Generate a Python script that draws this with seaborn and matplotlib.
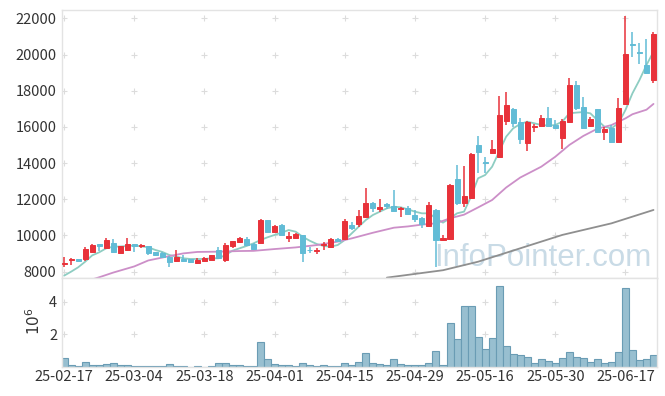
import numpy as np
import pandas as pd
import matplotlib
matplotlib.use("Agg")
import matplotlib.pyplot as plt
import seaborn as sns

# daily candles, one value per trading day (25-02-17 .. 25-06-23)
opens = [8450, 8660, 8680, 8680, 9100, 9510, 9330, 9570, 9050, 9200,
         9510, 9420, 9420, 9070, 9010, 8830, 8610, 8700, 8680, 8460,
         8610, 8650, 9200, 8650, 9420, 9640, 9800, 9550, 9600, 10850,
         10210, 10560, 9880, 9880, 10010, 9210, 9140, 9490, 9380, 9800,
         9790, 10580, 10630, 11040, 11810, 11460, 11740, 11630, 11440, 11540,
         11130, 10950, 10540, 11410, 9750, 9790, 13120, 11780, 12050, 15000,
         14040, 14580, 14350, 16340, 16990, 16270, 15110, 15980, 16050, 16490,
         16100, 15370, 16290, 18310, 17080, 16050, 16990, 15700, 15920, 15180,
         17250, 20580, 20120, 19420, 18590]
highs = [8830, 8770, 8700, 9380, 9510, 9510, 9860, 9790, 9440, 9840,
         9510, 9550, 9440, 9100, 9070, 8850, 9200, 8920, 8700, 8770,
         8810, 8920, 9380, 9600, 9720, 9920, 9930, 9580, 10910, 10870,
         10580, 10630, 10170, 10150, 10040, 9340, 9290, 9620, 9860, 9880,
         10890, 10760, 11410, 12600, 11870, 12000, 11810, 12510, 11590, 11610,
         11410, 11040, 11870, 11440, 10000, 12850, 13890, 13860, 14540, 15500,
         14350, 15280, 17730, 17910, 17030, 16470, 16340, 16160, 16660, 17080,
         16380, 16440, 18680, 18560, 17630, 16530, 17010, 16010, 16100, 17580,
         22120, 21260, 20660, 20840, 21260]
lows = [8280, 8370, 8520, 8610, 9080, 9160, 9290, 9070, 9030, 9160,
        9100, 9290, 8920, 8870, 8740, 8280, 8550, 8550, 8460, 8400,
        8520, 8620, 8680, 8550, 9300, 9600, 9440, 9200, 9580, 10190,
        10190, 10000, 9620, 9860, 8520, 9050, 8980, 9200, 9330, 9680,
        9770, 10300, 10490, 10950, 11300, 11300, 11460, 11350, 11040, 11130,
        10760, 10390, 10490, 8280, 9710, 9750, 11680, 11590, 12010, 13430,
        13430, 14540, 14280, 16100, 16010, 15040, 14670, 15740, 16050, 16010,
        15920, 14760, 16200, 16920, 15880, 16010, 15640, 15280, 15130, 15150,
        17190, 19880, 19480, 18960, 18440]
closes = [8470, 8690, 8610, 9230, 9470, 9420, 9750, 9100, 9420, 9510,
          9420, 9450, 9010, 8900, 8790, 8550, 8830, 8610, 8520, 8650,
          8740, 8900, 8740, 9470, 9700, 9860, 9470, 9230, 10850, 10210,
          10520, 10030, 9950, 10080, 9050, 9180, 9170, 9510, 9800, 9710,
          10820, 10390, 11080, 11810, 11520, 11570, 11630, 11370, 11540, 11200,
          10910, 10630, 11680, 9750, 9880, 12790, 11810, 12180, 14500, 14630,
          13990, 14760, 16660, 17210, 16230, 15310, 16290, 16050, 16490, 16070,
          15960, 16340, 18310, 17060, 15920, 16440, 15700, 15880, 15180, 17030,
          20030, 20540, 20070, 19000, 21130]
# volume in millions
volumes = [0.53, 0.12, 0.04, 0.29, 0.12, 0.12, 0.16, 0.22, 0.12, 0.12,
           0.06, 0.06, 0.04, 0.04, 0.04, 0.16, 0.06, 0.04, 0.0, 0.04,
           0.0, 0.04, 0.22, 0.22, 0.12, 0.12, 0.04, 0.04, 1.51, 0.47,
           0.16, 0.10, 0.10, 0.04, 0.22, 0.10, 0.04, 0.10, 0.04, 0.06,
           0.22, 0.10, 0.29, 0.84, 0.22, 0.16, 0.10, 0.47, 0.16, 0.10,
           0.14, 0.14, 0.22, 0.96, 0.10, 2.67, 1.69, 3.73, 3.73, 1.81,
           1.08, 1.75, 4.93, 1.26, 0.77, 0.71, 0.59, 0.22, 0.47, 0.35,
           0.22, 0.53, 0.90, 0.59, 0.53, 0.29, 0.47, 0.22, 0.29, 0.90,
           4.81, 1.02, 0.41, 0.47, 0.71]

# moving averages
ma5 = [7780, 8000, 8240, 8550, 8900, 9070, 9290, 9380, 9390, 9420,
       9440, 9400, 9345, 9200, 9090, 8920, 8830, 8740, 8700, 8700,
       8700, 8740, 8740, 8920, 9160, 9290, 9420, 9566, 9750, 9900,
       10030, 10155, 10300, 10210, 9930, 9710, 9530, 9420, 9380, 9474,
       9750, 10120, 10490, 10855, 11130, 11316, 11500, 11590, 11555, 11445,
       11316, 11224, 11224, 10950, 10710, 10950, 11224, 11316, 12150, 13160,
       13340, 13800, 14630, 15460, 15920, 16160, 16290, 16200, 16105, 16070,
       16105, 16290, 16750, 16790, 16820, 16750, 16380, 16013, 15920, 16200,
       16930, 17855, 18590, 19420, 20157]
ma20_days = [4, 5, 7, 10, 12, 15, 17, 19, 22, 25, 27, 30, 33, 36, 39, 41, 44, 47,
             49, 51, 53, 55, 57, 59, 61, 63, 65, 68, 70, 72, 74, 76, 78, 80, 81, 83, 84]
ma20 = [7570, 7690, 7950, 8290, 8620, 8860, 9010, 9090, 9105, 9140, 9150, 9250,
        9340, 9470, 9660, 9840, 10150, 10430, 10500, 10600, 10670, 10950, 11150,
        11550, 11960, 12650, 13200, 13800, 14350, 15000, 15500, 15900, 16100,
        16470, 16700, 16950, 17270]
ma60_days = [46, 54, 59, 65, 71, 78, 84]
ma60 = [7670, 8080, 8550, 9290, 10030, 10670, 11410]

tick_days = [0, 10, 20, 30, 40, 50, 60, 70, 80]
tick_labels = ['25-02-17', '25-03-04', '25-03-18', '25-04-01', '25-04-15',
               '25-04-29', '25-05-16', '25-05-30', '25-06-17']
price_ticks = [8000, 10000, 12000, 14000, 16000, 18000, 20000, 22000]
vol_ticks = [2, 4]

sns.set_style("white")
plt.rcParams['font.family'] = ['Noto Sans CJK KR', 'DejaVu Sans']

up_col = '#e8323a'
down_col = '#62bcd6'
spine_col = '#e3e3e3'
text_col = '#333333'

df = pd.DataFrame({'day': np.arange(len(opens)), 'open': opens, 'high': highs,
                   'low': lows, 'close': closes, 'volume': volumes, 'ma5': ma5})
df['up'] = df['close'] >= df['open']
df['body_lo'] = df[['open', 'close']].min(axis=1)
df['body_h'] = (df['close'] - df['open']).abs()
cols = np.where(df['up'], up_col, down_col)

fig = plt.figure(figsize=(6.65, 3.96), dpi=100)
ax = fig.add_axes([62 / 665, 1 - 278 / 396, 595 / 665, 268 / 396])
ax2 = fig.add_axes([62 / 665, 1 - 367 / 396, 595 / 665, 89 / 396], sharex=ax)

# grid drawn as small crosses
gx, gy = np.meshgrid(tick_days, price_ticks)
ax.scatter(gx.ravel(), gy.ravel(), marker='+', s=22, color='#dcdcdc', lw=0.8, zorder=0)
gx2, gy2 = np.meshgrid(tick_days, vol_ticks)
ax2.scatter(gx2.ravel(), gy2.ravel(), marker='+', s=22, color='#dcdcdc', lw=0.8, zorder=0)

# watermark
ax.text(0.625, 0.045, 'InfoPointer.com', transform=ax.transAxes, fontsize=22.5,
        family='Liberation Sans', color='#c3d7e4', alpha=0.9, zorder=1)

# moving averages
sns.lineplot(x=df['day'], y=df['ma5'], ax=ax, color='#8ecdc2', lw=1.3, zorder=2)
sns.lineplot(x=ma20_days, y=ma20, ax=ax, color='#cc8fc8', lw=1.3, zorder=2)
sns.lineplot(x=ma60_days, y=ma60, ax=ax, color='#8f8f8f', lw=1.3, zorder=2)

# candles
ax.vlines(df['day'], df['low'], df['high'], colors=cols, lw=1.1, zorder=3)
ax.bar(df['day'], df['body_h'], bottom=df['body_lo'], width=0.72, color=cols,
       edgecolor=cols, linewidth=0.7, zorder=4)

# volume
sns.barplot(x=df['day'], y=df['volume'], ax=ax2, native_scale=True, width=1.0,
            color='#98bfd0', edgecolor='#6a9cb4', linewidth=0.8, saturation=1,
            errorbar=None, zorder=2)

ax.set_xlim(-0.3, 84.5)
ax.set_ylim(7650, 22460)
ax2.set_ylim(0, 5.44)

ax.set_yticks(price_ticks)
ax.set_yticklabels([str(t) for t in price_ticks])
ax2.set_yticks(vol_ticks)
ax2.set_yticklabels([str(t) for t in vol_ticks])
ax2.set_xticks(tick_days)
ax2.set_xticklabels(tick_labels)
ax.tick_params(axis='x', labelbottom=False, length=0)
ax.tick_params(axis='y', length=0, labelsize=10.5, labelcolor=text_col, pad=4)
ax2.tick_params(axis='both', length=0, labelsize=10.5, labelcolor=text_col)
ax2.tick_params(axis='x', pad=2)
ax.set_xlabel('')
ax.set_ylabel('')
ax2.set_xlabel('')
ax2.set_ylabel('$10^6$', fontsize=11, color=text_col)
ax2.yaxis.set_label_coords(-0.03, 0.52)

for a in (ax, ax2):
    for s in a.spines.values():
        s.set_color(spine_col)
        s.set_linewidth(1.0)

fig.savefig('out.png', dpi=100)
